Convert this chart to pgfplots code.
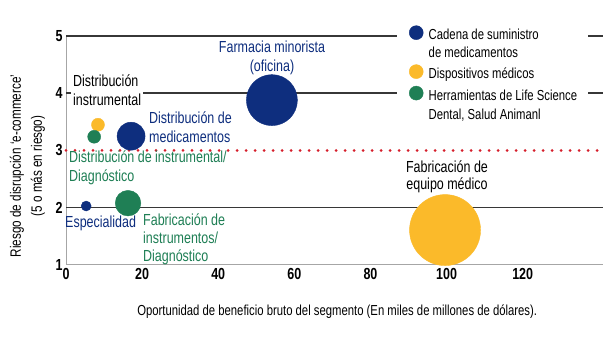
\documentclass[border=0pt]{standalone}
\usepackage{pgfplots}
\pgfplotsset{compat=1.18}
\usepackage{fontspec}
\setmainfont{Liberation Sans}[FakeStretch=0.78]
\definecolor{navyc}{RGB}{14,46,126}
\definecolor{yel}{RGB}{251,186,42}
\definecolor{grn}{RGB}{31,127,85}
\definecolor{redd}{RGB}{214,30,43}
\definecolor{gline}{RGB}{55,55,55}
\newcommand\lab{\fontsize{16bp}{19bp}\selectfont}
\newcommand\rr[1]{\rule[-4bp]{0pt}{#1}}
\begin{document}
\begin{tikzpicture}
\useasboundingbox (0bp,0bp) rectangle (614bp,343bp);
\fill[white] (0bp,0bp) rectangle (614bp,343bp);
\begin{axis}[
  at={(66bp,78bp)}, anchor=south west, scale only axis,
  width=537bp, height=229bp,
  xmin=0, xmax=141.1, ymin=1, ymax=5,
  axis x line*=bottom, axis y line*=left,
  axis line style={-, draw=gray!70, line width=1bp},
  xtick={0,20,...,120}, ytick={1,2,3,4,5},
  major tick length=0pt,
  tick label style={font=\fontsize{16bp}{18bp}\selectfont\bfseries},
  /pgf/number format/assume math mode=true,
  clip=false,
  xlabel={Oportunidad de beneficio bruto del segmento (En miles de millones de dólares).},
  xlabel style={at={(axis description cs:0.505,-0.205)}, anchor=center, font=\fontsize{14.5bp}{16bp}\selectfont},
  legend style={at={(axis description cs:0.636,1.046)}, anchor=north west, draw=none, fill=none,
    inner sep=0pt, row sep=0pt, cells={anchor=base west},
    /tikz/every odd column/.append style={column sep=3.5bp},
    font=\fontsize{14.5bp}{17bp}\selectfont},
]
% grid lines
\draw[gline, line width=1.5bp] (axis cs:0,5) -- (axis cs:87,5);
\draw[gline, line width=1.5bp] (axis cs:137.2,5) -- (axis cs:141.1,5);
\draw[gline, line width=1.5bp] (axis cs:0,4) -- (axis cs:87,4);
\draw[gline, line width=1.5bp] (axis cs:137.2,4) -- (axis cs:141.1,4);
\draw[gline, line width=1.5bp] (axis cs:0,2) -- (axis cs:141.1,2);
% bubbles
\addplot[only marks, mark=*, mark size=25.5bp, color=navyc, mark options={draw=none, fill=navyc}, forget plot] coordinates {(54.1,3.88)};
\addplot[only marks, mark=*, mark size=14bp, color=navyc, mark options={draw=none, fill=navyc}, forget plot] coordinates {(17.1,3.25)};
\addplot[only marks, mark=*, mark size=6.5bp, color=yel, mark options={draw=none, fill=yel}, forget plot] coordinates {(8.4,3.45)};
\addplot[only marks, mark=*, mark size=6.5bp, color=grn, mark options={draw=none, fill=grn}, forget plot] coordinates {(7.4,3.24)};
\addplot[only marks, mark=*, mark size=5bp, color=navyc, mark options={draw=none, fill=navyc}, forget plot] coordinates {(5.3,2.03)};
\addplot[only marks, mark=*, mark size=12.8bp, color=grn, mark options={draw=none, fill=grn}, forget plot] coordinates {(16.3,2.08)};
\addplot[only marks, mark=*, mark size=35.5bp, color=yel, mark options={draw=none, fill=yel}, forget plot] coordinates {(99.6,1.61)};
% threshold
\draw[redd, line width=3bp, line cap=round, dash pattern=on 0bp off 9bp] (axis cs:0,3) -- (axis cs:141.1,3);
% legend
\addlegendimage{only marks, mark=*, mark size=7bp, color=navyc, mark options={fill=navyc, yshift=7bp}}
\addlegendentry{\rr{13bp}Cadena de suministro}
\addlegendimage{empty legend}
\addlegendentry{\rr{16bp}de medicamentos}
\addlegendimage{only marks, mark=*, mark size=7bp, color=yel, mark options={fill=yel, yshift=7bp}}
\addlegendentry{\rr{20bp}Dispositivos médicos}
\addlegendimage{only marks, mark=*, mark size=7bp, color=grn, mark options={fill=grn, yshift=7bp}}
\addlegendentry{\rr{20bp}Herramientas de Life Science}
\addlegendimage{empty legend}
\addlegendentry{\rr{18bp}Dental, Salud Animanl}
\end{axis}
\node[rotate=90, align=center, font=\fontsize{15bp}{21bp}\selectfont] at (27.5bp,177bp) {Riesgo de disrupción `e-commerce'\\(5 o más en riesgo)};
\node[align=center, text=navyc, font=\lab, inner sep=0pt] at (272bp,285.5bp) {Farmacia minorista\\(oficina)};
\node[anchor=west, align=left, fill=white, inner sep=2bp, font=\lab] at (71bp,252.5bp) {Distribución\\instrumental};
\node[anchor=west, align=left, text=navyc, font=\lab, inner sep=0pt] at (149bp,215.5bp) {Distribución de\\medicamentos};
\node[anchor=west, align=left, text=grn, font=\lab, inner sep=0pt] at (69bp,175bp) {Distribución de instrumental/\\Diagnóstico};
\node[anchor=west, text=navyc, font=\lab, inner sep=0pt] at (65bp,120bp) {Especialidad};
\node[anchor=west, align=left, text=grn, font=\fontsize{16bp}{18bp}\selectfont, inner sep=0pt] at (143bp,104bp) {Fabricación de\\instrumentos/\\Diagnóstico};
\node[align=center, font=\fontsize{16bp}{17bp}\selectfont, inner sep=0pt] at (447bp,166.5bp) {Fabricación de\\equipo médico};
\end{tikzpicture}
\end{document}
